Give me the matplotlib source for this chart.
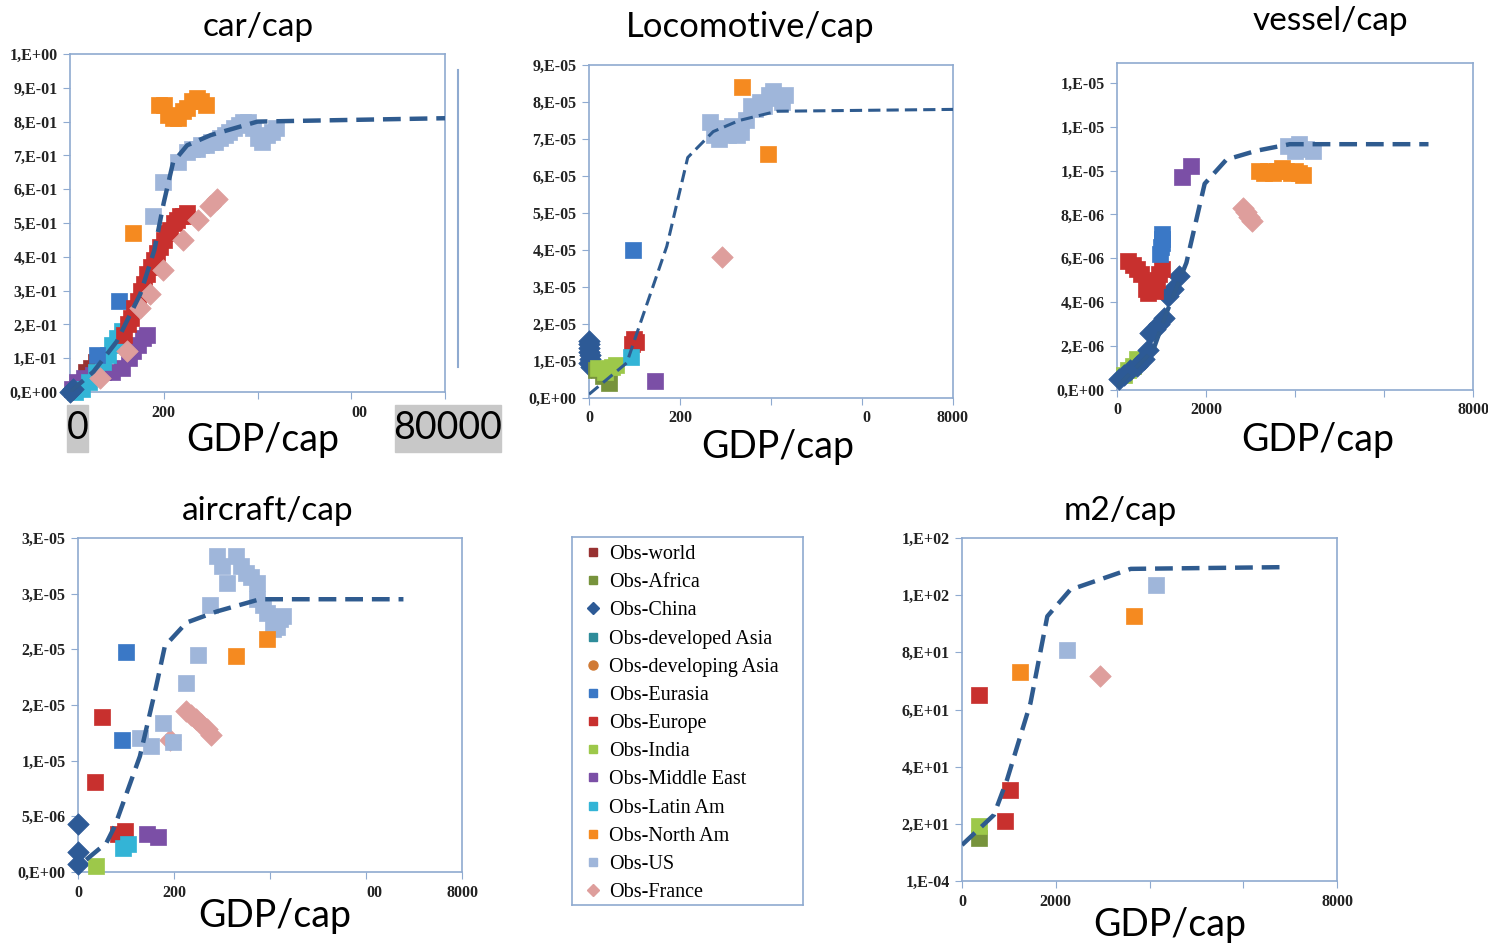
import matplotlib.pyplot as plt
from matplotlib.lines import Line2D
from matplotlib.patches import Rectangle

W, H = 1488, 946

# ---- data ----
gdp_ticks = [0, 20000, 40000, 60000, 80000]

# car/cap
car_yticks = [0, 0.1, 0.2, 0.3, 0.4, 0.5, 0.6, 0.7, 0.8, 0.9, 1.0]
car_ylabels = ["0,E+00", "1,E-01", "2,E-01", "3,E-01", "4,E-01", "5,E-01",
               "6,E-01", "7,E-01", "8,E-01", "9,E-01", "1,E+00"]
car_xlabels = ["", "200", "", "00", ""]
car_world_x = [3500, 4500, 5500]
car_world_y = [0.06, 0.07, 0.09]
car_europe_x = [11500, 12300, 13000, 13700, 14400, 15100, 15800, 16500, 17200, 17900,
                18600, 19300, 20000, 20700, 21400, 22100, 22800, 23500, 24200, 25000]
car_europe_y = [0.17, 0.20, 0.22, 0.25, 0.27, 0.30, 0.32, 0.35, 0.37, 0.39,
                0.41, 0.43, 0.45, 0.47, 0.48, 0.50, 0.51, 0.52, 0.52, 0.53]
car_us_x = [17700, 19800, 23000, 25000, 26000, 27000, 28000, 29000, 30000, 31000, 32000, 33000,
            34000, 35000, 36000, 37000, 38000, 39000, 40000, 41000, 42000, 43000, 44000]
car_us_y = [0.52, 0.62, 0.68, 0.71, 0.72, 0.72, 0.73, 0.73, 0.74, 0.74, 0.75, 0.76,
            0.77, 0.78, 0.79, 0.80, 0.80, 0.78, 0.75, 0.74, 0.76, 0.77, 0.78]
car_northam_x = [13400, 19000, 20000, 21000, 22000, 23000, 24000, 25000, 26000, 27000, 28000, 29000]
car_northam_y = [0.47, 0.85, 0.85, 0.82, 0.81, 0.81, 0.83, 0.84, 0.86, 0.87, 0.86, 0.85]
car_france_x = [6400, 12100, 15000, 17000, 19800, 24100, 27400, 29900, 31300]
car_france_y = [0.04, 0.12, 0.25, 0.29, 0.36, 0.45, 0.51, 0.55, 0.57]
car_mideast_x = [500, 1500, 3000, 5000, 7000, 9000, 11000, 12500, 13500, 14500, 15500, 16500]
car_mideast_y = [0.01, 0.03, 0.04, 0.05, 0.06, 0.06, 0.07, 0.10, 0.12, 0.14, 0.16, 0.17]
car_latam_x = [1000, 2500, 4000, 5500, 7000, 8000, 9000, 10000, 11000]
car_latam_y = [0.00, 0.01, 0.03, 0.06, 0.09, 0.11, 0.14, 0.16, 0.18]
car_eurasia_x = [5700, 10500]
car_eurasia_y = [0.11, 0.27]
car_china_x = [0, 700]
car_china_y = [0.0, 0.01]
car_model_x = [0, 5000, 10000, 15000, 18000, 20000, 22000, 25000, 30000, 35000, 40000, 80000]
car_model_y = [0.0, 0.06, 0.15, 0.29, 0.42, 0.56, 0.68, 0.73, 0.76, 0.78, 0.80, 0.81]

# Locomotive/cap
loco_yticks = [0, 1e-5, 2e-5, 3e-5, 4e-5, 5e-5, 6e-5, 7e-5, 8e-5, 9e-5]
loco_ylabels = ["0,E+00", "1,E-05", "2,E-05", "3,E-05", "4,E-05", "5,E-05",
                "6,E-05", "7,E-05", "8,E-05", "9,E-05"]
loco_xlabels = ["0", "200", "", "0", "8000"]
loco_us_x = [26500, 27500, 28500, 29500, 30500, 31500, 32500, 33500, 34500,
             35500, 36500, 37500, 38500, 39500, 40500, 41500, 42500, 43000]
loco_us_y = [7.45e-5, 7.1e-5, 7.0e-5, 7.3e-5, 7.1e-5, 7.35e-5, 7.1e-5, 7.2e-5, 7.5e-5,
             7.9e-5, 7.8e-5, 8.0e-5, 7.9e-5, 8.2e-5, 8.3e-5, 8.1e-5, 8.0e-5, 8.2e-5]
loco_northam_x = [33600, 39300]
loco_northam_y = [8.4e-5, 6.6e-5]
loco_france_x = [29200]
loco_france_y = [3.8e-5]
loco_eurasia_x = [9700]
loco_eurasia_y = [4.0e-5]
loco_europe_x = [9400, 9900, 10300]
loco_europe_y = [1.45e-5, 1.6e-5, 1.5e-5]
loco_latam_x = [9200]
loco_latam_y = [1.1e-5]
loco_mideast_x = [14500]
loco_mideast_y = [0.45e-5]
loco_china_x = [0, 0, 0, 0, 200, 300, 100, 400]
loco_china_y = [1.55e-5, 1.45e-5, 1.35e-5, 1.25e-5, 1.15e-5, 1.05e-5, 0.95e-5, 0.85e-5]
loco_africa_x = [1500, 3000, 4500]
loco_africa_y = [0.75e-5, 0.6e-5, 0.4e-5]
loco_india_x = [2000, 3500, 5000, 6000]
loco_india_y = [0.8e-5, 0.7e-5, 0.85e-5, 0.9e-5]
loco_model_x = [0, 8300, 10100, 17100, 21700, 27300, 33000, 41300, 80000]
loco_model_y = [0.1e-5, 0.95e-5, 1.6e-5, 4.1e-5, 6.5e-5, 7.2e-5, 7.5e-5, 7.75e-5, 7.8e-5]

# vessel/cap
vessel_yticks = [0, 2e-6, 4e-6, 6e-6, 8e-6, 10e-6, 12e-6, 14e-6]
vessel_ylabels = ["0,E+00", "2,E-06", "4,E-06", "6,E-06", "8,E-06", "1,E-05", "1,E-05", "1,E-05"]
vessel_xlabels = ["0", "2000", "", "", "8000"]
vessel_us_x = [38500, 40000, 41000, 42500, 44000]
vessel_us_y = [1.11e-5, 1.09e-5, 1.12e-5, 1.10e-5, 1.09e-5]
vessel_northam_x = [32000, 33000, 34000, 35000, 36000, 37000, 38000, 39000, 40000, 41000, 41800]
vessel_northam_y = [1.0e-5, 0.99e-5, 1.0e-5, 0.99e-5, 1.0e-5, 1.01e-5, 1.0e-5, 0.99e-5, 1.0e-5, 0.99e-5, 0.98e-5]
vessel_france_x = [28300, 29000, 29700, 30400]
vessel_france_y = [8.3e-6, 8.1e-6, 7.9e-6, 7.7e-6]
vessel_mideast_x = [14500, 16700]
vessel_mideast_y = [9.7e-6, 10.2e-6]
vessel_eurasia_x = [9700, 9900, 10000, 10100, 10200]
vessel_eurasia_y = [6.2e-6, 6.5e-6, 6.7e-6, 6.9e-6, 7.1e-6]
vessel_europe_x = [2500, 3500, 4500, 5500, 6500, 7000, 7500, 8000, 8500, 9000, 9500, 10000]
vessel_europe_y = [5.9e-6, 5.7e-6, 5.5e-6, 5.3e-6, 4.6e-6, 4.4e-6, 4.7e-6, 4.9e-6, 4.5e-6, 5.0e-6, 5.3e-6, 5.5e-6]
vessel_china_x = [500, 1500, 3000, 4500, 6000, 7000, 7500, 8500, 9500, 10500, 11500, 12500, 14000]
vessel_china_y = [0.5e-6, 0.7e-6, 0.9e-6, 1.1e-6, 1.4e-6, 1.8e-6, 2.6e-6, 2.8e-6, 3.0e-6,
                  3.3e-6, 4.3e-6, 4.6e-6, 5.2e-6]
vessel_india_x = [1500, 2500, 3500, 4500]
vessel_india_y = [0.7e-6, 0.9e-6, 1.1e-6, 1.4e-6]
vessel_model_x = [0, 8100, 11100, 15600, 19700, 24600, 31300, 38800, 70000]
vessel_model_y = [0.15e-6, 1.8e-6, 3.5e-6, 5.8e-6, 9.4e-6, 10.5e-6, 10.9e-6, 11.2e-6, 11.2e-6]

# aircraft/cap
air_yticks = [0, 5e-6, 10e-6, 15e-6, 20e-6, 25e-6, 30e-6]
air_ylabels = ["0,E+00", "5,E-06", "1,E-05", "2,E-05", "2,E-05", "3,E-05", "3,E-05"]
air_xlabels = ["0", "200", "", "00", "8000"]
air_us_x = [28900, 33000, 31000, 35100, 37200, 37200, 39300, 42100, 40700, 42800, 27500,
            25000, 22600, 17700, 15300, 12900, 19800, 30000, 34000, 36000, 38500, 41500]
air_us_y = [2.84e-5, 2.84e-5, 2.6e-5, 2.69e-5, 2.6e-5, 2.45e-5, 2.33e-5, 2.27e-5, 2.18e-5, 2.3e-5, 2.4e-5,
            1.95e-5, 1.7e-5, 1.34e-5, 1.13e-5, 1.2e-5, 1.17e-5, 2.75e-5, 2.75e-5, 2.65e-5, 2.4e-5, 2.2e-5]
air_northam_x = [33000, 39300]
air_northam_y = [1.94e-5, 2.09e-5]
air_france_x = [19100, 22600, 23600, 24600, 25600, 26800, 27800]
air_france_y = [1.19e-5, 1.45e-5, 1.41e-5, 1.37e-5, 1.33e-5, 1.28e-5, 1.23e-5]
air_eurasia_x = [10100, 9250]
air_eurasia_y = [1.98e-5, 1.19e-5]
air_europe_x = [4900, 3500, 9700, 8350]
air_europe_y = [1.39e-5, 0.81e-5, 0.37e-5, 0.34e-5]
air_latam_x = [9400, 10400]
air_latam_y = [0.22e-5, 0.25e-5]
air_mideast_x = [14300, 16700]
air_mideast_y = [0.34e-5, 0.31e-5]
air_china_x = [0, 0, 0]
air_china_y = [0.43e-5, 0.18e-5, 0.07e-5]
air_india_x = [3800]
air_india_y = [0.05e-5]
air_model_x = [1700, 5900, 7650, 12900, 16300, 18100, 22600, 28900, 37900, 67800]
air_model_y = [0.11e-5, 0.26e-5, 0.41e-5, 1.04e-5, 1.67e-5, 2.03e-5, 2.24e-5, 2.34e-5, 2.45e-5, 2.45e-5]

# m2/cap
m2_yticks = [0, 20, 40, 60, 80, 100, 120]
m2_ylabels = ["1,E-04", "2,E+01", "4,E+01", "6,E+01", "8,E+01", "1,E+02", "1,E+02"]
m2_xlabels = ["0", "2000", "", "", "8000"]
m2_europe_x = [3560, 10300, 9260]
m2_europe_y = [64.9, 31.9, 21.1]
m2_india_x = [3700]
m2_india_y = [19.3]
m2_africa_x = [3560]
m2_africa_y = [14.9]
m2_northam_x = [12300, 36700]
m2_northam_y = [73.0, 92.6]
m2_us_x = [22400, 41300]
m2_us_y = [80.9, 103.4]
m2_france_x = [29500]
m2_france_y = [71.6]
m2_model_x = [0, 6800, 9600, 14600, 18200, 23100, 36000, 68400]
m2_model_y = [12.6, 23.1, 35.4, 62.2, 92.6, 101.9, 109.2, 109.8]

legend_labels = ["Obs-world", "Obs-Africa", "Obs-China", "Obs-developed Asia",
                 "Obs-developing Asia", "Obs-Eurasia", "Obs-Europe", "Obs-India",
                 "Obs-Middle East", "Obs-Latin Am", "Obs-North Am", "Obs-US", "Obs-France"]

# ---- styles ----
STYLE = {
    "world": ("s", "#983232"), "africa": ("s", "#77933C"), "china": ("D", "#2D5A96"),
    "devasia": ("s", "#2E8C9A"), "dingasia": ("o", "#D07A35"), "eurasia": ("s", "#3A78C6"),
    "europe": ("s", "#C8302E"), "india": ("s", "#9DC84A"), "mideast": ("s", "#7B4FA6"),
    "latam": ("s", "#33B4D6"), "northam": ("s", "#F58A20"), "us": ("s", "#9FB6DA"),
    "france": ("D", "#DE9E9C"),
}
legend_keys = ["world", "africa", "china", "devasia", "dingasia", "eurasia", "europe",
               "india", "mideast", "latam", "northam", "us", "france"]
FRAME = "#8FAAD0"
MODEL = "#2F5B8F"
SERIF = "Liberation Serif"
SANS = "Lato"

fig = plt.figure(figsize=(W / 100, H / 100), dpi=100)


def px_axes(x0, y0, x1, y1):
    return fig.add_axes([x0 / W, 1 - y1 / H, (x1 - x0) / W, (y1 - y0) / H])


def panel(box, ylim, yticks, ylabels, xlabels):
    ax = px_axes(*box)
    ax.set_xlim(0, 80000)
    ax.set_ylim(*ylim)
    ax.set_xticks(gdp_ticks)
    ax.set_xticklabels(xlabels, fontfamily=SERIF, fontweight="bold")
    ax.set_yticks(yticks)
    ax.set_yticklabels(ylabels, fontfamily=SERIF, fontweight="bold")
    for sp in ax.spines.values():
        sp.set_color(FRAME)
        sp.set_linewidth(1.2)
    ax.tick_params(length=5, color=FRAME, labelsize=11.5, pad=4, labelcolor="#222222")
    for lab, t in zip(ax.get_xticklabels(), gdp_ticks):
        if t > 0 and lab.get_text() in ("0", "00"):
            lab.set_ha("left")
    return ax


def draw(ax, series, mx, my, lw):
    for key, xs, ys in series:
        m, c = STYLE[key]
        ax.scatter(xs, ys, marker=m, s=130 if m == "s" else 120, c=c,
                   edgecolors=c, linewidths=0.5, zorder=3, clip_on=False)
    ax.plot(mx, my, color=MODEL, lw=lw, dashes=(4, 2), zorder=4, solid_capstyle="butt")


def ftext(x, y, s, **kw):
    fig.text(x / W, 1 - y / H, s, ha="center", va="center", **kw)


# car/cap
ax = panel((70, 54, 445, 392), (0, 1.0), car_yticks, car_ylabels, car_xlabels)
draw(ax, [("world", car_world_x, car_world_y), ("mideast", car_mideast_x, car_mideast_y),
          ("latam", car_latam_x, car_latam_y), ("eurasia", car_eurasia_x, car_eurasia_y),
          ("europe", car_europe_x, car_europe_y), ("france", car_france_x, car_france_y),
          ("us", car_us_x, car_us_y), ("northam", car_northam_x, car_northam_y),
          ("china", car_china_x, car_china_y)],
     car_model_x, car_model_y, 3.2)
ftext(258, 27, "car/cap", fontsize=24, family=SANS)
fig.add_artist(Line2D([458 / W, 458 / W], [1 - 70 / H, 1 - 367 / H], color=FRAME, lw=1.5))
fig.add_artist(Rectangle((67 / W, 1 - 452 / H), 21 / W, 47 / H, color="#C8C8C8", transform=fig.transFigure))
fig.add_artist(Rectangle((395 / W, 1 - 452 / H), 106 / W, 47 / H, color="#C8C8C8", transform=fig.transFigure))
ftext(78, 428, "0", fontsize=27, family=SANS)
ftext(448, 428, "80000", fontsize=27, family=SANS)
ftext(263, 440, "GDP/cap", fontsize=27, family=SANS)

# Locomotive/cap
ax = panel((589, 65, 953, 398), (0, 9e-5), loco_yticks, loco_ylabels, loco_xlabels)
draw(ax, [("china", loco_china_x, loco_china_y), ("africa", loco_africa_x, loco_africa_y),
          ("india", loco_india_x, loco_india_y), ("europe", loco_europe_x, loco_europe_y),
          ("latam", loco_latam_x, loco_latam_y), ("mideast", loco_mideast_x, loco_mideast_y),
          ("eurasia", loco_eurasia_x, loco_eurasia_y), ("france", loco_france_x, loco_france_y),
          ("us", loco_us_x, loco_us_y), ("northam", loco_northam_x, loco_northam_y)],
     loco_model_x, loco_model_y, 2.2)
ftext(750, 27, "Locomotive/cap", fontsize=25, family=SANS)
ftext(778, 447, "GDP/cap", fontsize=27, family=SANS)

# vessel/cap
ax = panel((1117, 63, 1473, 390), (0, 1.49e-5), vessel_yticks, vessel_ylabels, vessel_xlabels)
draw(ax, [("india", vessel_india_x, vessel_india_y), ("china", vessel_china_x, vessel_china_y),
          ("europe", vessel_europe_x, vessel_europe_y), ("eurasia", vessel_eurasia_x, vessel_eurasia_y),
          ("mideast", vessel_mideast_x, vessel_mideast_y), ("france", vessel_france_x, vessel_france_y),
          ("northam", vessel_northam_x, vessel_northam_y), ("us", vessel_us_x, vessel_us_y)],
     vessel_model_x, vessel_model_y, 3.2)
ftext(1330, 21, "vessel/cap", fontsize=24, family=SANS)
ftext(1318, 440, "GDP/cap", fontsize=27, family=SANS)

# aircraft/cap
ax = panel((78, 538, 462, 872), (0, 3e-5), air_yticks, air_ylabels, air_xlabels)
draw(ax, [("china", air_china_x, air_china_y), ("india", air_india_x, air_india_y),
          ("europe", air_europe_x, air_europe_y), ("latam", air_latam_x, air_latam_y),
          ("mideast", air_mideast_x, air_mideast_y), ("eurasia", air_eurasia_x, air_eurasia_y),
          ("france", air_france_x, air_france_y), ("us", air_us_x, air_us_y),
          ("northam", air_northam_x, air_northam_y)],
     air_model_x, air_model_y, 3.2)
ftext(268, 511, "aircraft/cap", fontsize=24, family=SANS)
ftext(275, 916, "GDP/cap", fontsize=27, family=SANS)

# m2/cap
ax = panel((962, 538, 1337, 881), (0, 120), m2_yticks, m2_ylabels, m2_xlabels)
draw(ax, [("africa", m2_africa_x, m2_africa_y), ("india", m2_india_x, m2_india_y),
          ("europe", m2_europe_x, m2_europe_y), ("northam", m2_northam_x, m2_northam_y),
          ("us", m2_us_x, m2_us_y), ("france", m2_france_x, m2_france_y)],
     m2_model_x, m2_model_y, 3.2)
ftext(1120, 511, "m2/cap", fontsize=24, family=SANS)
ftext(1170, 925, "GDP/cap", fontsize=27, family=SANS)

# legend box
lax = px_axes(572, 537, 803, 905)
lax.set_xticks([])
lax.set_yticks([])
for sp in lax.spines.values():
    sp.set_color(FRAME)
    sp.set_linewidth(1.2)
handles = [Line2D([], [], ls="none", marker=STYLE[k][0], color=STYLE[k][1],
                  markersize=6 if STYLE[k][0] == "s" else 6.5, label=lab)
           for k, lab in zip(legend_keys, legend_labels)]
lax.legend(handles=handles, loc="upper left", bbox_to_anchor=(0.025, 1.0), frameon=False,
           handlelength=0.7, handletextpad=0.45, labelspacing=0.45, borderaxespad=0.0,
           prop={"family": SERIF, "size": 14.5})

fig.savefig("out.png", dpi=100)
